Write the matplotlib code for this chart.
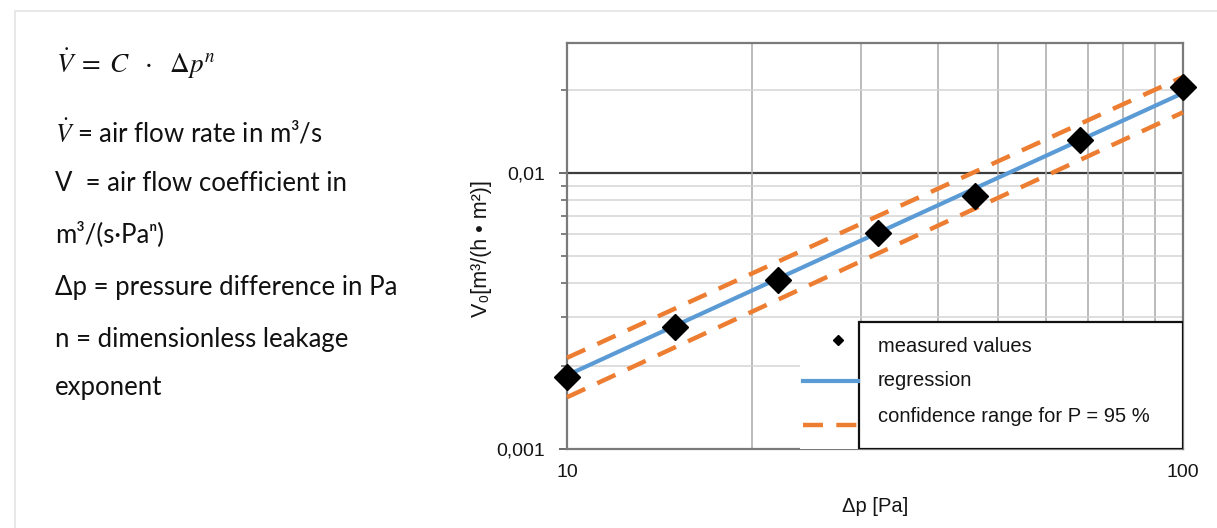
import matplotlib
matplotlib.use("Agg")
import matplotlib.pyplot as plt
from matplotlib.patches import Rectangle
from matplotlib.lines import Line2D
from matplotlib.ticker import FixedLocator, NullFormatter

plt.rcParams['mathtext.fontset'] = 'stix'

# ---- data ----
pressure = [10, 15, 22, 32, 46, 68, 100]
flow = [0.00182, 0.00277, 0.00409, 0.00607, 0.00826, 0.0132, 0.0205]
reg_x = [10, 100]
reg_y = [0.00185, 0.0195]
upper_y = [0.00214, 0.0223]
lower_y = [0.00154, 0.0166]
ytick_vals = [0.001, 0.01]
ytick_labels = ['0,001', '0,01']
xtick_vals = [10, 100]
xtick_labels = ['10', '100']
legend_labels = ['measured values', 'regression', 'confidence range for P = 95 %']
left_lines = [r'$\dot{V}$ = air flow rate in m³/s',
              'V  = air flow coefficient in',
              'm³/(s·Paⁿ)',
              'Δp = pressure difference in Pa',
              'n = dimensionless leakage',
              'exponent']

W, H = 1217, 528
fig = plt.figure(figsize=(W / 100, H / 100), dpi=100)
fig.patch.set_facecolor('white')

# outer light frame
fig.patches.append(Rectangle((15 / W, -0.1), 1.2, 1 - 11 / H + 0.1, transform=fig.transFigure,
                             fill=False, edgecolor='#e4e4e4', lw=1.2))

def px(x, y):
    return x / W, 1 - y / H

# left text
fig.text(*px(56, 64), r'$\dot{V}\;=\;C\ \ \cdot\ \ \Delta p^{n}$', fontsize=19.5, va='center',
         ha='left', color='#111111')
ys = [133, 183, 234, 287, 339, 388]
for t, y in zip(left_lines, ys):
    fig.text(*px(55, y), t, fontsize=18.5, va='center', ha='left', color='#111111',
             family=['Lato', 'DejaVu Sans'])

ax = fig.add_axes([567 / W, 1 - 449 / H, (1183 - 567) / W, (449 - 43) / H])
ax.set_xscale('log')
ax.set_yscale('log')
ax.set_xlim(10, 100)
ax.set_ylim(0.001, 0.0296)

# gridlines
ax.xaxis.set_minor_locator(FixedLocator([20, 30, 40, 50, 60, 70, 80, 90]))
ax.yaxis.set_minor_locator(FixedLocator([0.002, 0.003, 0.004, 0.005, 0.006, 0.007, 0.008, 0.009, 0.02]))
ax.xaxis.set_minor_formatter(NullFormatter())
ax.yaxis.set_minor_formatter(NullFormatter())
ax.grid(which='minor', axis='x', color='#a8a8a8', lw=1.1, zorder=0)
ax.grid(which='minor', axis='y', color='#d4d4d4', lw=1.1, zorder=0)
ax.axhline(0.01, color='#3c3c3c', lw=1.6, zorder=1)

ax.set_xticks(xtick_vals)
ax.set_xticklabels(xtick_labels)
ax.set_yticks(ytick_vals)
ax.set_yticklabels(ytick_labels)
for lab in ax.get_xticklabels() + ax.get_yticklabels():
    lab.set_family('Liberation Sans')
    lab.set_fontsize(14)
    lab.set_color('#151515')
ax.tick_params(axis='y', which='major', length=6, width=1.4, color='#6a6a6a', pad=9.5)
ax.tick_params(axis='y', which='minor', length=4, width=1.2, color='#6a6a6a')
ax.tick_params(axis='x', which='both', length=0, pad=11)
for s in ax.spines.values():
    s.set_color('#7a7a7a')
    s.set_linewidth(1.6)

# data
ax.plot(reg_x, upper_y, color='#ed7d31', lw=3.2, dashes=(4.5, 3), zorder=3, clip_on=False)
ax.plot(reg_x, lower_y, color='#ed7d31', lw=3.2, dashes=(4.5, 3), zorder=3, clip_on=False)
ax.plot(reg_x, reg_y, color='#5b9bd5', lw=3.0, zorder=4)
ax.plot(pressure, flow, ls='none', marker='D', ms=13, color='black', zorder=5, clip_on=False)

# legend (drawn manually: handles sit outside the frame)
def ax_x(p):
    return (p - 567) / (1183 - 567)

def ax_y(p):
    return (449 - p) / (449 - 43)

ax.add_patch(Rectangle((ax_x(800), 0), ax_x(859) - ax_x(800), ax_y(322), transform=ax.transAxes,
                       facecolor='white', edgecolor='none', zorder=6))
ax.add_patch(Rectangle((ax_x(859), 0), 1 - ax_x(859), ax_y(322), transform=ax.transAxes,
                       facecolor='white', edgecolor='#111111', lw=1.6, zorder=7))
ax.add_line(Line2D([ax_x(838)], [ax_y(340)], transform=ax.transAxes, marker='D', ms=5,
                   color='black', ls='none', zorder=8))
ax.add_line(Line2D([ax_x(803), ax_x(858)], [ax_y(381)] * 2, transform=ax.transAxes,
                   color='#5b9bd5', lw=3.0, zorder=8))
ax.add_line(Line2D([ax_x(803), ax_x(858)], [ax_y(425)] * 2, transform=ax.transAxes,
                   color='#ed7d31', lw=3.2, dashes=(4.5, 3), zorder=8))
for t, y in zip(legend_labels, [347, 381, 417]):
    ax.text(ax_x(878), ax_y(y), t, transform=ax.transAxes, fontsize=14.5, family='Liberation Sans',
            va='center', ha='left', color='#151515', zorder=9)

ax.set_xlabel('Δp [Pa]', fontsize=14.5, family='Liberation Sans', color='#151515', labelpad=11)
fig.text(*px(481, 249), 'V₀[m³/(h • m²)]', rotation=90, fontsize=15.5, va='center', ha='center',
         family=['Liberation Sans', 'DejaVu Sans'], color='#151515')

fig.savefig('out.png', dpi=100)
